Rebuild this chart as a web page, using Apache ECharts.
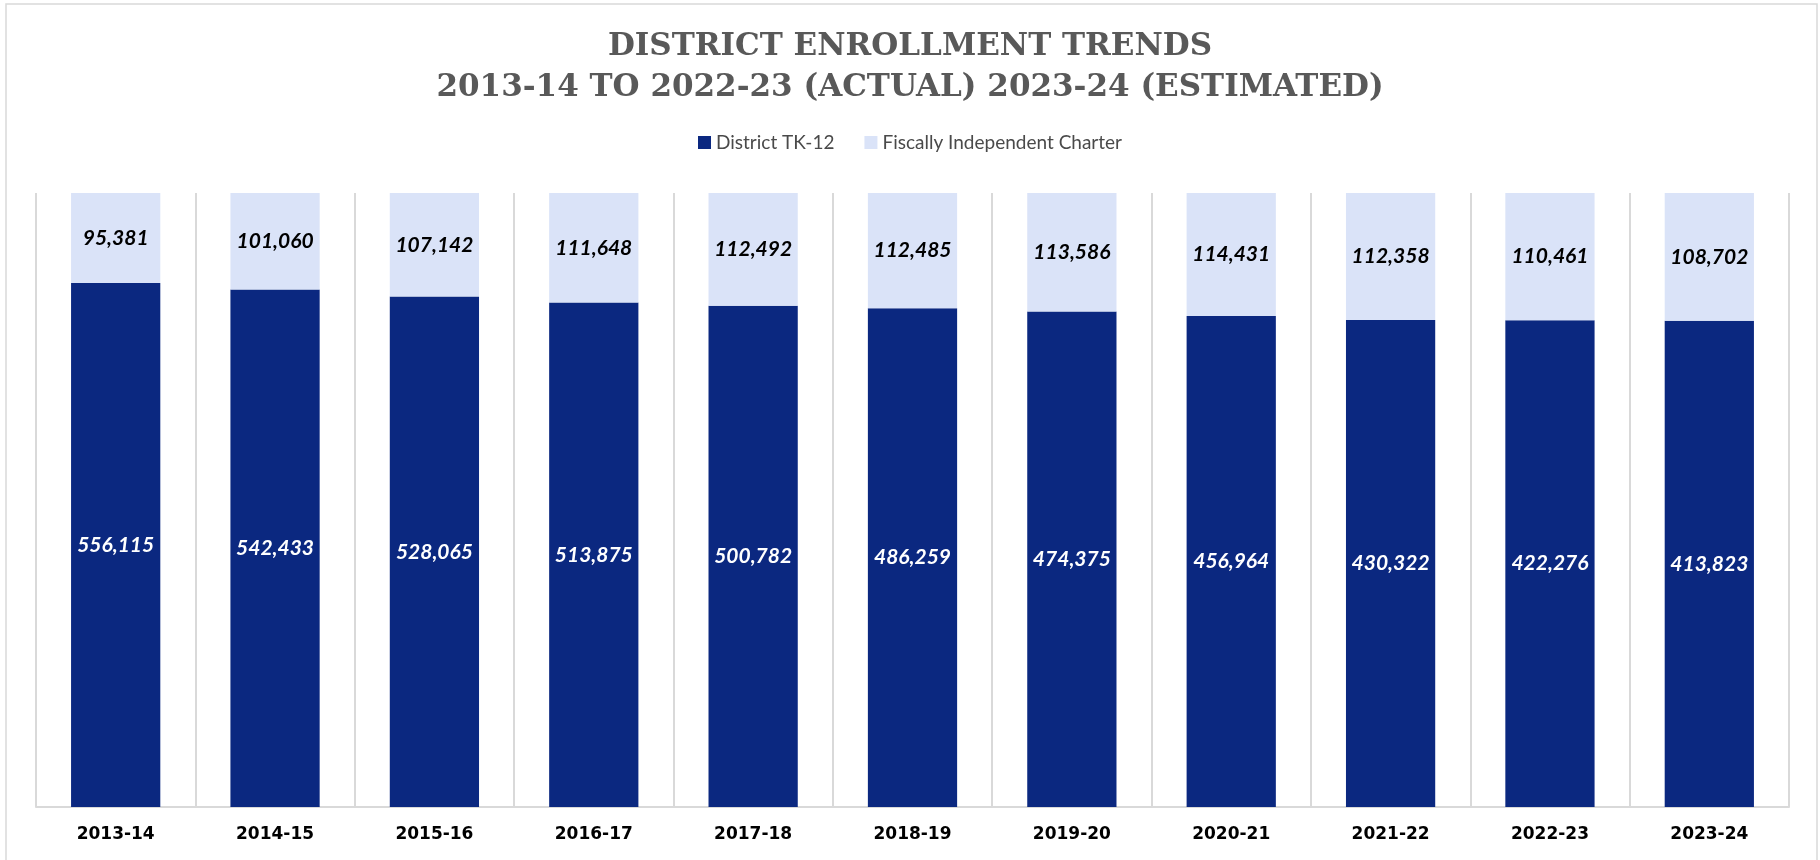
<!DOCTYPE html>
<html>
<head>
<meta charset="utf-8">
<script src="https://cdn.jsdelivr.net/npm/echarts@6/dist/echarts.min.js"></script>
<style>
html, body { margin: 0; padding: 0; background: #fff; }
#chart { width: 1820px; height: 860px; }
</style>
</head>
<body>
<div id="chart"></div>
<script>
// school years
var years = ["2013-14", "2014-15", "2015-16", "2016-17", "2017-18", "2018-19",
    "2019-20", "2020-21", "2021-22", "2022-23", "2023-24"];
// enrollment counts
var districtTK12 = [556115, 542433, 528065, 513875, 500782, 486259,
    474375, 456964, 430322, 422276, 413823];
var charter = [95381, 101060, 107142, 111648, 112492, 112485,
    113586, 114431, 112358, 110461, 108702];

// 100% stacked: share of each year's total
var districtShare = districtTK12.map(function (v, i) { return v / (v + charter[i]); });
var charterShare = charter.map(function (v, i) { return v / (districtTK12[i] + v); });

function fmt(n) {
    return n.toLocaleString("en-US");
}

var myChart = echarts.init(document.getElementById("chart"));
myChart.setOption({
    animation: false,
    graphic: [{
        type: "rect",
        shape: { x: 6, y: 4, width: 1811, height: 900 },
        style: { fill: "none", stroke: "#d9d9d9", lineWidth: 1.5 },
        silent: true
    }],
    title: {
        text: "DISTRICT ENROLLMENT TRENDS\n2013-14 TO 2022-23 (ACTUAL) 2023-24 (ESTIMATED)",
        left: "center",
        top: 21,
        textStyle: {
            fontFamily: "DejaVu Serif",
            fontWeight: "bold",
            fontSize: 31,
            lineHeight: 41,
            color: "#595959"
        }
    },
    legend: {
        top: 128,
        left: "center",
        itemWidth: 13,
        itemHeight: 13,
        itemGap: 30,
        icon: "rect",
        textStyle: {
            fontFamily: "Lato",
            fontSize: 19,
            color: "#4a4a4a"
        },
        data: ["District TK-12", "Fiscally Independent Charter"]
    },
    grid: {
        left: 36,
        right: 31,
        top: 193,
        bottom: 53,
        containLabel: false
    },
    xAxis: {
        type: "category",
        data: years,
        axisLine: { lineStyle: { color: "#d9d9d9", width: 2 } },
        axisTick: { show: false },
        splitLine: { show: true, lineStyle: { color: "#d9d9d9", width: 2 } },
        axisLabel: {
            margin: 19,
            fontFamily: "DejaVu Sans",
            fontWeight: "bold",
            fontSize: 17,
            color: "#000"
        }
    },
    yAxis: {
        type: "value",
        min: 0,
        max: 1,
        show: false
    },
    series: [{
        name: "District TK-12",
        type: "bar",
        stack: "total",
        barCategoryGap: "44%",
        data: districtShare,
        itemStyle: { color: "#0B2880" },
        label: {
            show: true,
            position: "inside",
            fontFamily: "Lato",
            fontStyle: "italic",
            fontWeight: "bold",
            fontSize: 21,
            color: "#fff",
            formatter: function (p) { return fmt(districtTK12[p.dataIndex]); }
        }
    }, {
        name: "Fiscally Independent Charter",
        type: "bar",
        stack: "total",
        data: charterShare,
        itemStyle: { color: "#DAE3F8" },
        label: {
            show: true,
            position: "inside",
            fontFamily: "Lato",
            fontStyle: "italic",
            fontWeight: "bold",
            fontSize: 21,
            color: "#000",
            formatter: function (p) { return fmt(charter[p.dataIndex]); }
        }
    }]
});
window.addEventListener("resize", function () {
    myChart.resize();
});
</script>
</body>
</html>
